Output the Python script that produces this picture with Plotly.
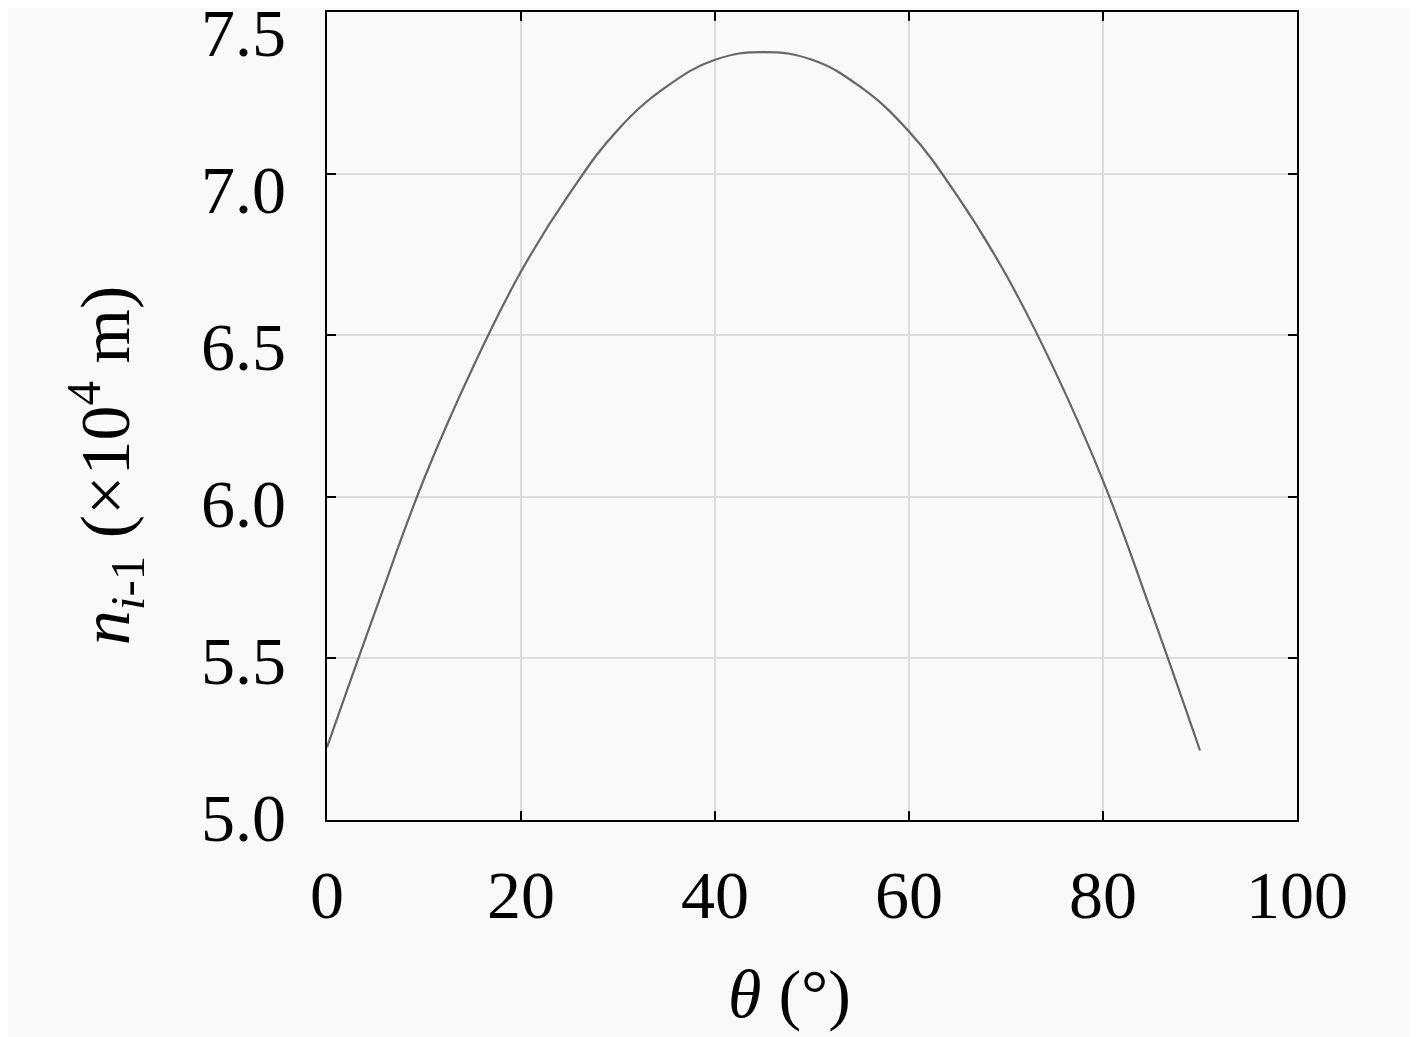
import plotly.graph_objects as go

# 讀圖估值：θ (度) 與 n_{i-1} (×10^4 m)
theta = [0, 5, 10, 15, 20, 25, 30, 35, 40, 45,
         50, 55, 60, 65, 70, 75, 80, 85, 90]
n_prev = [5.225, 5.648, 6.055, 6.398, 6.697, 6.938, 7.136, 7.269, 7.352, 7.376,
          7.352, 7.268, 7.130, 6.930, 6.687, 6.392, 6.050, 5.643, 5.215]

x_ticks = [0, 20, 40, 60, 80, 100]
y_ticks = [5.0, 5.5, 6.0, 6.5, 7.0, 7.5]

bg = "#f9f9f9"
font_family = "Liberation Serif"
tick_size = 68

fig = go.Figure()

fig.add_trace(go.Scatter(
    x=theta,
    y=n_prev,
    mode="lines",
    line=dict(color="#666666", width=2.2, shape="spline", smoothing=1.2),
    showlegend=False,
))

# 透明曲線，只為讓疊加的刻度文字軸畫出來
fig.add_trace(go.Scatter(
    x=theta,
    y=n_prev,
    yaxis="y2",
    mode="lines",
    line=dict(color="rgba(0,0,0,0)", width=0),
    hoverinfo="skip",
    showlegend=False,
))

axis_common = dict(
    showline=True,
    linecolor="black",
    linewidth=2,
    mirror="ticks",
    ticks="inside",
    ticklen=9,
    tickwidth=2,
    tickcolor="black",
    showgrid=True,
    gridcolor="#dcdcdc",
    gridwidth=2,
    zeroline=False,
    automargin=False,
    tickfont=dict(family=font_family, size=tick_size, color="black"),
)

fig.update_layout(
    width=1417,
    height=1037,
    paper_bgcolor=bg,
    plot_bgcolor=bg,
    margin=dict(l=319, r=128, t=4, b=225),
    font=dict(family=font_family, color="black"),
    xaxis=dict(
        range=[0, 100],
        tickvals=x_ticks,
        ticktext=[str(v) for v in x_ticks],
        ticklabelstandoff=14,
        **axis_common,
    ),
    yaxis=dict(
        range=[5.0, 7.5],
        tickvals=y_ticks,
        showticklabels=False,
        **axis_common,
    ),
    # 原圖刻度文字間距略小於刻度間距，用一條只顯示文字的疊加軸重現
    yaxis2=dict(
        overlaying="y",
        side="left",
        anchor="x",
        range=[4.9905, 7.5637],
        tickvals=y_ticks,
        ticktext=[f"{v:.1f}" for v in y_ticks],
        ticks="",
        showline=False,
        showgrid=False,
        zeroline=False,
        automargin=False,
        ticklabelstandoff=40,
        ticklabeloverflow="allow",
        tickfont=dict(family=font_family, size=tick_size, color="black"),
    ),
    annotations=[
        dict(
            text="<i>θ</i> (°)",
            xref="paper", yref="paper",
            x=0.477, y=-0.215,
            xanchor="center", yanchor="middle",
            showarrow=False,
            font=dict(family=font_family, size=tick_size, color="black"),
        ),
        dict(
            text="<i>n</i><sub><i>i</i>-1</sub> (×10<sup>4</sup> m)",
            xref="paper", yref="paper",
            x=-0.229, y=0.439,
            xanchor="center", yanchor="middle",
            textangle=-90,
            showarrow=False,
            font=dict(family=font_family, size=70, color="black"),
        ),
    ],
)

fig.write_html("out.html")
